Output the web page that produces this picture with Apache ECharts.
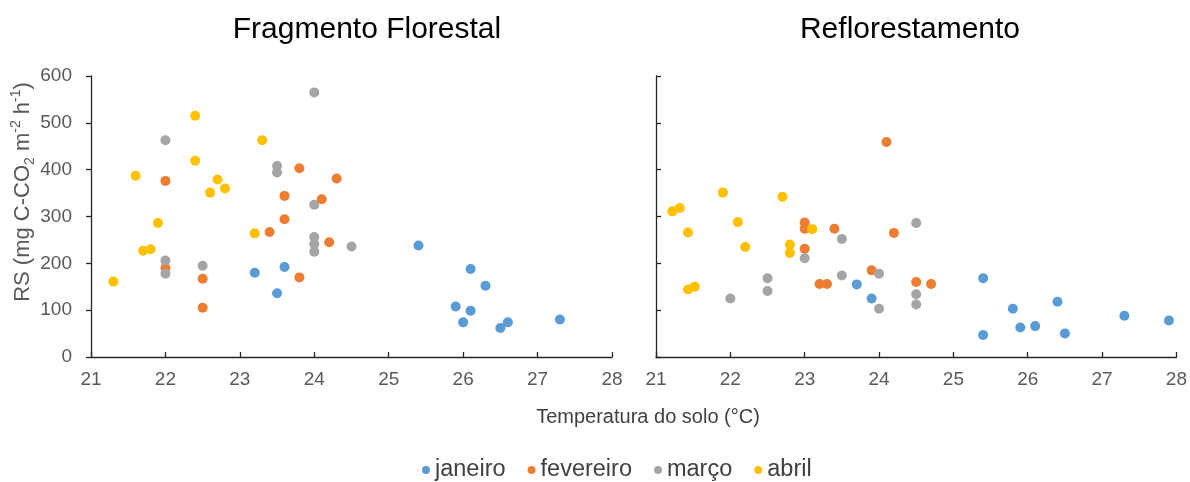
<!DOCTYPE html>
<html>
<head>
<meta charset="utf-8">
<script src="https://cdn.jsdelivr.net/npm/echarts@6/dist/echarts.min.js"></script>
<style>
  html, body { margin: 0; padding: 0; background: #fff; }
  #chart { width: 1190px; height: 482px; }
</style>
</head>
<body>
<div id="chart"></div>
<script>
// Soil respiration (RS) versus soil temperature, two sites, four months
const months = ['janeiro', 'fevereiro', 'março', 'abril'];
const monthColors = ['#5B9BD5', '#ED7D31', '#A5A5A5', '#FFC000'];
const panelTitles = ['Fragmento Florestal', 'Reflorestamento'];
const xTicks = [21, 22, 23, 24, 25, 26, 27, 28];
const yTicks = [0, 100, 200, 300, 400, 500, 600];

// Fragmento Florestal
const ffJaneiroT   = [23.2, 23.6, 23.5, 25.4, 26.1, 26.3, 25.9, 26.1, 26.0, 26.5, 26.6, 27.3];
const ffJaneiroRS  = [180, 192, 136, 238, 188, 152, 108, 99, 74, 62, 74, 80];
const ffFevereiroT  = [22.0, 22.0, 22.5, 22.5, 23.8, 23.6, 23.6, 23.4, 23.8, 24.3, 24.1, 24.2];
const ffFevereiroRS = [376, 190, 167, 105, 403, 344, 294, 267, 170, 381, 337, 245];
const ffMarcoT  = [22.0, 22.0, 22.0, 22.5, 23.5, 23.5, 24.0, 24.0, 24.0, 24.0, 24.0, 24.5];
const ffMarcoRS = [463, 206, 178, 195, 408, 394, 565, 325, 256, 241, 225, 236];
const ffAbrilT  = [21.3, 21.6, 22.4, 22.4, 21.9, 21.7, 21.8, 22.7, 22.6, 22.8, 23.3, 23.2];
const ffAbrilRS = [161, 387, 515, 419, 286, 227, 230, 379, 351, 360, 463, 264];

// Reflorestamento
const rfJaneiroT  = [23.7, 23.9, 25.4, 25.4, 25.8, 25.9, 26.1, 26.4, 26.5, 27.3, 27.9];
const rfJaneiroRS = [155, 125, 168, 47, 103, 63, 66, 118, 50, 88, 78];
const rfFevereiroT  = [24.1, 23.0, 23.0, 23.4, 23.0, 24.2, 23.2, 23.3, 23.9, 24.5, 24.7];
const rfFevereiroRS = [459, 287, 274, 274, 231, 265, 156, 156, 185, 160, 156];
const rfMarcoT  = [24.5, 23.5, 23.0, 22.0, 22.5, 22.5, 23.5, 24.0, 24.0, 24.5, 24.5];
const rfMarcoRS = [286, 252, 211, 125, 168, 141, 174, 178, 103, 134, 112];
const rfAbrilT  = [21.22, 21.32, 21.43, 21.43, 21.52, 21.9, 22.1, 22.2, 22.7, 22.8, 22.8, 23.1];
const rfAbrilRS = [311, 318, 266, 144, 150, 351, 288, 235, 342, 240, 222, 273];

const panels = [
  [[ffJaneiroT, ffJaneiroRS], [ffFevereiroT, ffFevereiroRS], [ffMarcoT, ffMarcoRS], [ffAbrilT, ffAbrilRS]],
  [[rfJaneiroT, rfJaneiroRS], [rfFevereiroT, rfFevereiroRS], [rfMarcoT, rfMarcoRS], [rfAbrilT, rfAbrilRS]]
];

const FONT = 'Liberation Sans, Arial, sans-serif';
const grids = [
  { left: 91, top: 76, width: 521, height: 281 },
  { left: 656, top: 76, width: 522, height: 281 }
];

const series = [];
panels.forEach((panel, p) => {
  panel.forEach(([t, rs], m) => {
    series.push({
      name: months[m],
      type: 'scatter',
      xAxisIndex: p,
      yAxisIndex: p,
      symbol: 'circle',
      symbolSize: 10,
      itemStyle: { color: monthColors[m], opacity: 1 },
      emphasis: { disabled: true },
      data: t.map((x, i) => [x, rs[i]])
    });
  });
});

const axisLineStyle = { color: '#262626', width: 1.3 };

const xAxes = grids.map((g, i) => ({
  type: 'value', gridIndex: i,
  min: xTicks[0], max: xTicks[xTicks.length - 1], interval: 1,
  splitLine: { show: false },
  axisLine: { show: true, onZero: false, lineStyle: axisLineStyle },
  axisTick: { show: true, inside: true, length: 5, lineStyle: axisLineStyle },
  axisLabel: { color: '#595959', fontSize: 19, fontFamily: FONT, margin: 13 }
}));

const yAxes = grids.map((g, i) => ({
  type: 'value', gridIndex: i,
  min: yTicks[0], max: yTicks[yTicks.length - 1], interval: 100,
  splitLine: { show: false },
  axisLine: { show: true, lineStyle: axisLineStyle },
  axisTick: { show: true, inside: i === 1, length: 5, lineStyle: axisLineStyle },
  axisLabel: { show: i === 0, color: '#595959', fontSize: 19, fontFamily: FONT, margin: 19 }
}));

// rotated y-axis title with subscript / superscripts
const yTitleRich = {
  n: { fontSize: 22, fontFamily: FONT, fill: '#595959', lineHeight: 28 },
  sub: { fontSize: 14, fontFamily: FONT, fill: '#595959', verticalAlign: 'bottom', lineHeight: 28 },
  sup: { fontSize: 14, fontFamily: FONT, fill: '#595959', verticalAlign: 'top', lineHeight: 28 }
};

const option = {
  backgroundColor: '#ffffff',
  animation: false,
  title: [
    { text: panelTitles[0], left: 362, top: 10, textAlign: 'center',
      textStyle: { fontSize: 30, fontWeight: 'normal', color: '#000', fontFamily: FONT } },
    { text: panelTitles[1], left: 905, top: 10, textAlign: 'center',
      textStyle: { fontSize: 30, fontWeight: 'normal', color: '#000', fontFamily: FONT } },
    { text: 'Temperatura do solo (°C)', left: 643, top: 402, textAlign: 'center',
      textStyle: { fontSize: 20, fontWeight: 'normal', color: '#404040', fontFamily: FONT } }
  ],
  graphic: [{
    type: 'text',
    x: 23, y: 192,
    rotation: Math.PI / 2,
    style: {
      text: '{n|RS (mg C-CO}{sub|2}{n| m}{sup|-2}{n| h}{sup|-1}{n|)}',
      rich: yTitleRich,
      font: '22px ' + FONT,
      fill: '#595959',
      align: 'center',
      verticalAlign: 'middle'
    }
  }],
  legend: {
    data: months,
    left: 417, top: 453,
    icon: 'circle',
    itemWidth: 8, itemHeight: 8,
    itemGap: 22,
    textStyle: { fontSize: 23.5, color: '#404040', fontFamily: FONT },
    selectedMode: false
  },
  grid: grids,
  xAxis: xAxes,
  yAxis: yAxes,
  series: series
};

const chart = echarts.init(document.getElementById('chart'), null, { renderer: 'canvas' });
chart.setOption(option);
</script>
</body>
</html>
